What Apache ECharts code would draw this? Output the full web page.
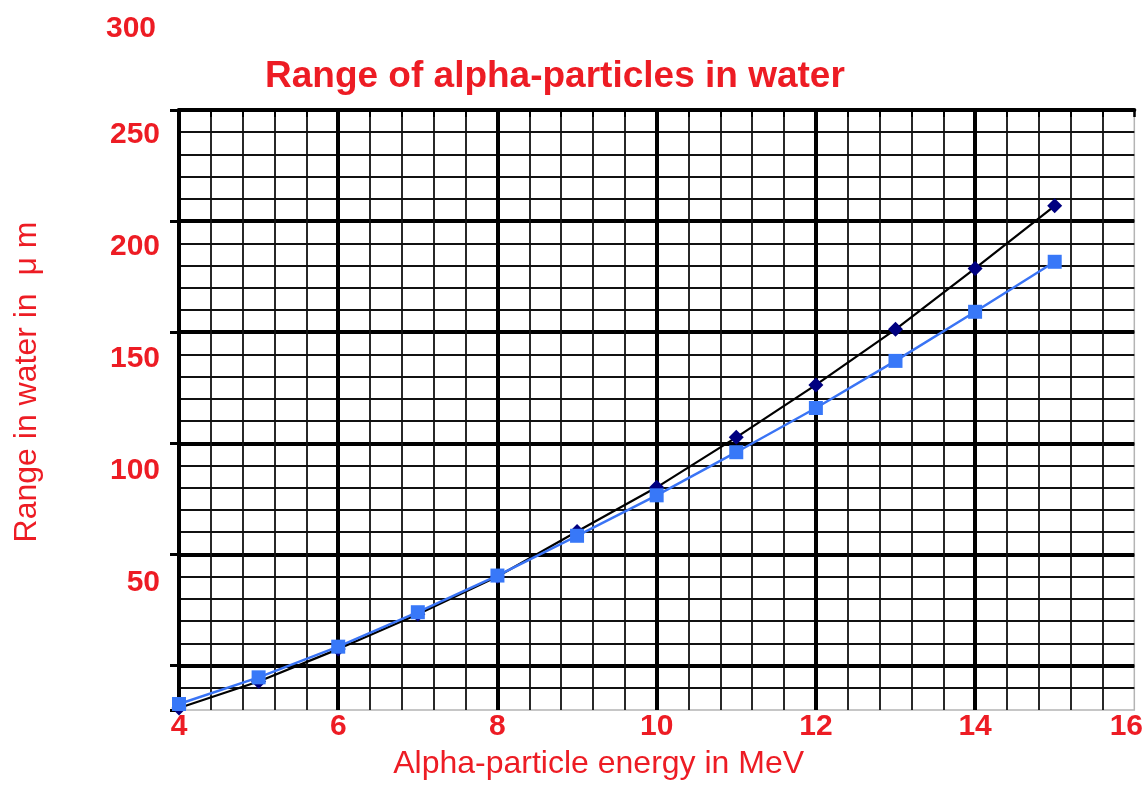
<!DOCTYPE html>
<html>
<head>
<meta charset="utf-8">
<script src="https://cdn.jsdelivr.net/npm/echarts@6/dist/echarts.min.js"></script>
<style>
html,body{margin:0;padding:0;background:#fff;}
#chart{width:1146px;height:785px;}
</style>
</head>
<body>
<div id="chart"></div>
<script>
var energies = [4, 5, 6, 7, 8, 9, 10, 11, 12, 13, 14, 15];
var rangeBlack = [30.9, 42.8, 57.4, 73.1, 90.1, 110.3, 130.2, 152.7, 176.3, 201.3, 228.7, 256.9];
var rangeBlue = [32.7, 44.7, 58.5, 74.0, 90.5, 108.4, 126.6, 146.0, 165.9, 187.1, 209.2, 231.7];
var yTickLabels = [50, 100, 150, 200, 250, 300];
var xTickLabels = [4, 6, 8, 10, 12, 14, 16];

var RED = '#ed1c24';
var FONT = "'Liberation Sans', Arial, sans-serif";

function pairs(xs, ys) { return xs.map(function (x, i) { return [x, ys[i]]; }); }

var chart = echarts.init(document.getElementById('chart'), null, {renderer: 'canvas'});
var option = {
  animation: false,
  backgroundColor: '#ffffff',
  title: {
    text: 'Range of alpha-particles in water',
    left: 260, top: 53,
    textStyle: {color: RED, fontSize: 37, fontWeight: 'bold', fontFamily: FONT}
  },
  grid: [
    {left: 179, right: 11, top: 110, bottom: 73, show: true, borderColor: '#b4b4b4', borderWidth: 1.5, backgroundColor: 'transparent'},
    {left: 179, right: 11, top: 22.5, bottom: 202, show: false}
  ],
  xAxis: [
    {
      type: 'value', gridIndex: 0, min: xTickLabels[0], max: xTickLabels[xTickLabels.length - 1], interval: 2,
      position: 'bottom',
      axisLine: {show: true, lineStyle: {color: '#000', width: 4}},
      axisTick: {show: true, length: 7, lineStyle: {color: '#000', width: 2.5}},
      minorTick: {show: true, splitNumber: 5, length: 7, lineStyle: {color: '#000', width: 2}},
      splitLine: {show: true, showMinLine: false, showMaxLine: false, lineStyle: {color: '#000', width: 4}},
      minorSplitLine: {show: true, lineStyle: {color: '#111', width: 1.8}},
      axisLabel: {
        show: true, margin: 2, color: RED, fontSize: 30, fontWeight: 'bold', fontFamily: FONT,
        formatter: function (v) { return v === 16 ? '{e|' + v + '}' : String(v); },
        rich: {e: {color: RED, fontSize: 30, fontWeight: 'bold', fontFamily: FONT, padding: [0, 16, 0, 0]}}
      },
      name: 'Alpha-particle energy in MeV',
      nameLocation: 'middle', nameGap: 38,
      nameTextStyle: {color: RED, fontSize: 32, fontFamily: FONT, padding: [0, 116, 0, 0]}
    },
    {
      type: 'value', gridIndex: 1, min: 0, max: 1, show: false
    }
  ],
  yAxis: [
    {
      type: 'value', gridIndex: 0, min: 30, max: 300, interval: 10,
      position: 'left',
      axisLine: {show: true, lineStyle: {color: '#000', width: 4}},
      axisTick: {show: false},
      axisLabel: {show: false},
      splitLine: {show: true, showMinLine: false, showMaxLine: false, lineStyle: {color: '#111', width: 1.8}},
      name: 'Range in water in  \u03bc m',
      nameLocation: 'middle', nameGap: 136, nameRotate: 90,
      nameTextStyle: {color: RED, fontSize: 32, fontFamily: FONT, padding: [0, 0, 0, 56]}
    },
    {
      type: 'value', gridIndex: 0, inverse: true, min: 0, max: 270, interval: 50,
      position: 'left', offset: 0,
      axisLine: {show: false, onZero: false},
      axisTick: {show: true, length: 9, lineStyle: {color: '#000', width: 3}},
      axisLabel: {show: false},
      splitLine: {show: true, showMinLine: false, showMaxLine: false, lineStyle: {color: '#000', width: 4}}
    },
    {
      type: 'value', gridIndex: 1, min: yTickLabels[0], max: yTickLabels[yTickLabels.length - 1], interval: 50,
      position: 'left',
      axisLine: {show: false}, axisTick: {show: false}, splitLine: {show: false},
      axisLabel: {
        show: true, margin: 19, color: RED, fontSize: 30, fontWeight: 'bold', fontFamily: FONT,
        formatter: function (v) { return v === 300 ? '{t|' + v + '}' : String(v); },
        rich: {t: {color: RED, fontSize: 30, fontWeight: 'bold', fontFamily: FONT, padding: [12, 4, 0, 0]}}
      }
    }
  ],
  series: [
    {
      name: 'black', type: 'line', xAxisIndex: 0, yAxisIndex: 0,
      data: pairs(energies, rangeBlack),
      symbol: 'diamond', symbolSize: 15,
      lineStyle: {color: '#000000', width: 2.2},
      itemStyle: {color: '#000080'},
      z: 3
    },
    {
      name: 'blue', type: 'line', xAxisIndex: 0, yAxisIndex: 0,
      data: pairs(energies, rangeBlue),
      symbol: 'rect', symbolSize: 14,
      lineStyle: {color: '#3a74f5', width: 2.5},
      itemStyle: {color: '#3878f8'},
      z: 4
    }
  ]
};
chart.setOption(option);
</script>
</body>
</html>
